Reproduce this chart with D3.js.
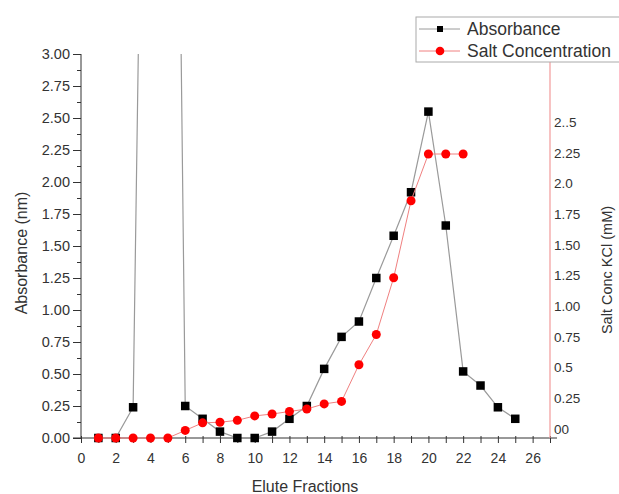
<!DOCTYPE html>
<meta charset="utf-8">
<style>
body { margin: 0; background: #fff; }
svg { font-family: "Liberation Sans", Arial, sans-serif; }
</style>
<body>
<script src="https://d3js.org/d3.v7.min.js"></script>
<script>

// data
var fractions  = [1,2,3,4,5,6,7,8,9,10,11,12,13,14,15,16,17,18,19,20,21,22,23,24,25];
var absorbance = [0,0,0.24,9.5,12.0,0.25,0.15,0.05,0,0,0.05,0.15,0.25,0.54,0.79,0.91,1.25,1.58,1.92,2.55,1.66,0.52,0.41,0.24,0.15];
var saltFractions = [1,2,3,4,5,6,7,8,9,10,11,12,13,14,15,16,17,18,19,20,21,22];
var salt = [0,0,0,0,0,0.06,0.12,0.125,0.14,0.175,0.19,0.21,0.23,0.27,0.29,0.58,0.82,1.27,1.88,2.25,2.25,2.25];
var leftTicks  = [0,0.25,0.5,0.75,1,1.25,1.5,1.75,2,2.25,2.5,2.75,3];
var rightTicks = [0,0.25,0.5,0.75,1,1.25,1.5,1.75,2,2.25,2.5];
var rightLabels = ["00","0.25","0.5","0.75","1.00","1.25","1.50","1.75","2.0","2.25","2..5"];

var W = 619, H = 494;
// plot area edges
var pL = 81, pR = 550, pT = 54, pB = 438;

var svg = d3.select("body").append("svg")
    .attr("width", W)
    .attr("height", H);

// scales
var x = d3.scaleLinear().domain([0, 27]).range([pL, pR]);
var y = d3.scaleLinear().domain([0, 3]).range([pB, pT]);
var ySalt = d3.scaleLinear().domain([0, 2.25]).range([pB, 154]);
var yRightLab = d3.scaleLinear().domain([0, 2.5]).range([429, 122]);

svg.append("clipPath").attr("id", "plot")
  .append("rect")
    .attr("x", pL).attr("y", pT)
    .attr("width", pR - pL).attr("height", pB - pT);

// bottom axis
var gx = svg.append("g")
    .attr("transform", "translate(0," + pB + ")")
    .call(d3.axisBottom(x).tickValues(d3.range(0, 28)).tickSize(5)
      .tickFormat(function(d) { return d % 2 === 0 && d <= 26 ? d : ""; }));
gx.select(".domain").attr("stroke", "#333").attr("d", "M" + (pL - 8) + ",0H" + (pR + 7));
gx.selectAll(".tick line").attr("stroke", "#333").attr("y1", -2);
gx.selectAll(".tick text").attr("font-size", 14).attr("fill", "#333").attr("dy", "1.2em");

// left axis (major + minor)
var gyMinor = svg.append("g")
    .attr("transform", "translate(" + pL + ",0)")
    .call(d3.axisLeft(y).tickValues(d3.range(0, 3.01, 0.125)).tickSize(4).tickFormat(""));
gyMinor.select(".domain").remove();
gyMinor.selectAll("line").attr("stroke", "#333");

var gy = svg.append("g")
    .attr("transform", "translate(" + pL + ",0)")
    .call(d3.axisLeft(y).tickValues(leftTicks).tickSize(8).tickPadding(3)
      .tickFormat(d3.format(".2f")));
gy.select(".domain").attr("stroke", "#333").attr("d", "M0," + pB + "V" + pT);
gy.selectAll(".tick line").attr("stroke", "#333");
gy.selectAll(".tick text").attr("font-size", 14.5).attr("fill", "#333");

// right axis (salt)
svg.append("line")
    .attr("x1", pR).attr("x2", pR)
    .attr("y1", pT).attr("y2", pB)
    .attr("stroke", "#f29a9a").attr("stroke-width", 1.2);

var gr = svg.append("g")
    .attr("transform", "translate(" + pR + ",0)")
    .call(d3.axisRight(yRightLab).tickValues(rightTicks).tickSize(0).tickPadding(4)
      .tickFormat(function(d, i) { return rightLabels[i]; }));
gr.select(".domain").remove();
gr.selectAll(".tick text").attr("font-size", 13.5).attr("fill", "#333");

// axis titles
svg.append("text")
    .attr("x", 305).attr("y", 492)
    .attr("text-anchor", "middle").attr("font-size", 16).attr("fill", "#333")
    .text("Elute Fractions");

svg.append("text")
    .attr("transform", "translate(27,253) rotate(-90)")
    .attr("text-anchor", "middle").attr("font-size", 16).attr("fill", "#333")
    .text("Absorbance (nm)");

svg.append("text")
    .attr("transform", "translate(612,270) rotate(-90)")
    .attr("text-anchor", "middle").attr("font-size", 14.5).attr("fill", "#333")
    .text("Salt Conc KCl (mM)");

// absorbance series
var absData = fractions.map(function(f, i) { return {x: f, y: absorbance[i]}; });
var saltData = saltFractions.map(function(f, i) { return {x: f, y: salt[i]}; });

svg.append("path")
    .datum(absData)
    .attr("clip-path", "url(#plot)")
    .attr("fill", "none")
    .attr("stroke", "#9a9a9a")
    .attr("stroke-width", 1.2)
    .attr("d", d3.line().x(function(d) { return x(d.x); }).y(function(d) { return y(d.y); }));

var sq = 8.5;
svg.selectAll(".sq")
    .data(absData.filter(function(d) { return d.y <= 3; }))
  .enter().append("rect")
    .attr("x", function(d) { return x(d.x) - sq / 2; })
    .attr("y", function(d) { return y(d.y) - sq / 2; })
    .attr("width", sq).attr("height", sq)
    .attr("fill", "#000");

// salt series
svg.append("path")
    .datum(saltData)
    .attr("fill", "none")
    .attr("stroke", "#f08080")
    .attr("stroke-width", 1)
    .attr("d", d3.line().x(function(d) { return x(d.x); }).y(function(d) { return ySalt(d.y); }));

svg.selectAll(".dot")
    .data(saltData)
  .enter().append("circle")
    .attr("cx", function(d) { return x(d.x); })
    .attr("cy", function(d) { return ySalt(d.y); })
    .attr("r", 4.5)
    .attr("fill", "#ff0000");

// legend
var lg = svg.append("g");
lg.append("rect")
    .attr("x", 416).attr("y", 17).attr("width", 210).attr("height", 45)
    .attr("fill", "#fff").attr("stroke", "#aaa");
lg.append("line").attr("x1", 419).attr("x2", 460).attr("y1", 29).attr("y2", 29)
    .attr("stroke", "#9a9a9a");
lg.append("rect").attr("x", 437).attr("y", 26).attr("width", 6).attr("height", 6).attr("fill", "#000");
lg.append("line").attr("x1", 419).attr("x2", 460).attr("y1", 51).attr("y2", 51)
    .attr("stroke", "#f08080");
lg.append("circle").attr("cx", 440).attr("cy", 51).attr("r", 4.3).attr("fill", "#ff0000");
lg.append("text").attr("x", 467).attr("y", 35).attr("font-size", 17.5).attr("fill", "#333").text("Absorbance");
lg.append("text").attr("x", 467).attr("y", 57).attr("font-size", 17.5).attr("fill", "#333").text("Salt Concentration");

</script>
</body>
